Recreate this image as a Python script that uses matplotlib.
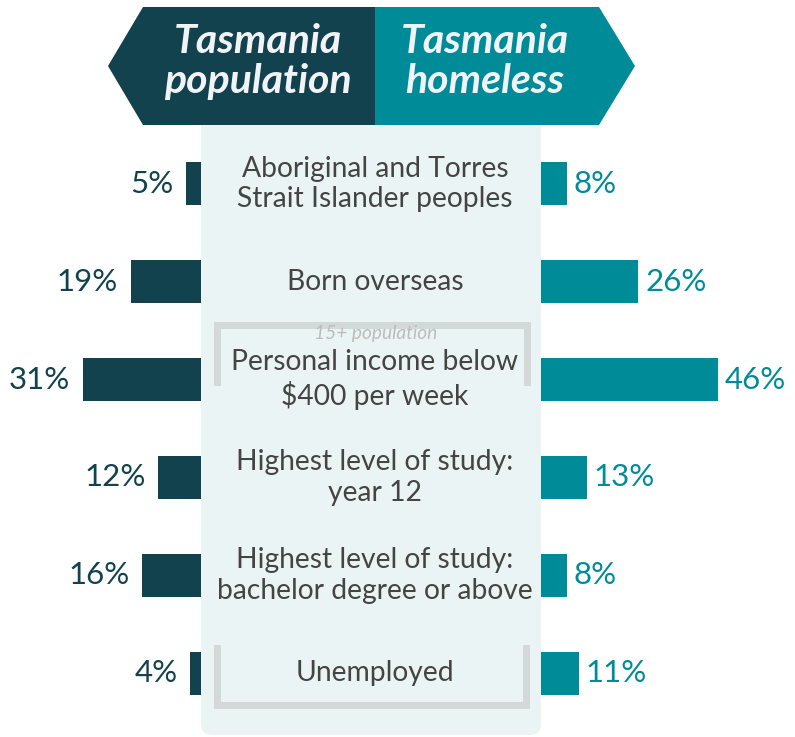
import matplotlib
matplotlib.use("Agg")
import matplotlib.pyplot as plt
import matplotlib.transforms as mtransforms
from matplotlib.patches import Polygon, FancyBboxPatch

plt.rcParams['font.family'] = ['Lato', 'DejaVu Sans']

# data
categories = ["Aboriginal and Torres\nStrait Islander peoples",
              "Born overseas",
              "Personal income below\n$400 per week",
              "Highest level of study:\nyear 12",
              "Highest level of study:\nbachelor degree or above",
              "Unemployed"]
population = [5, 19, 31, 12, 16, 4]
homeless = [8, 26, 46, 13, 8, 11]

dark = '#12424e'
teal = '#008b99'
panel = '#ebf4f4'
grey_txt = '#444444'
bracket = '#d3d8d8'

W, H = 795, 737
fig = plt.figure(figsize=(W / 100, H / 100), dpi=100)

# row geometry (pixels from top)
top, bottom = 135, 722
rows = list(range(len(categories)))
scale = 3.97  # px per percent
left_zero, right_zero = 206, 535  # bars start behind the panel

def add_axes_px(x0, x1):
    return fig.add_axes([x0 / W, 1 - bottom / H, (x1 - x0) / W, (bottom - top) / H])

axl = add_axes_px(0, left_zero)
axl.barh(rows, population, height=0.44, color=dark)
axl.set_xlim(left_zero / scale, 0)
axl.set_ylim(len(rows) - 0.5, -0.5)
axl.axis('off')
for r, v in zip(rows, population):
    axl.annotate(f"{v}%", (v, r), xytext=(-9, 0), textcoords='offset points',
                 ha='right', va='center', fontsize=22.5, color=dark)

axr = add_axes_px(right_zero, W)
axr.barh(rows, homeless, height=0.44, color=teal)
axr.set_xlim(0, (W - right_zero) / scale)
axr.set_ylim(len(rows) - 0.5, -0.5)
axr.axis('off')
for r, v in zip(rows, homeless):
    axr.annotate(f"{v}%", (v, r), xytext=(5, 0), textcoords='offset points',
                 ha='left', va='center', fontsize=22.5, color=teal)

# overlay axes in pixel coords: panel, header, brackets, centre labels
bg = fig.add_axes([0, 0, 1, 1])
bg.set_xlim(0, W)
bg.set_ylim(H, 0)
bg.axis('off')
bg.patch.set_alpha(0)

bg.add_patch(FancyBboxPatch((201, 100), 340, 635, boxstyle="round,pad=0,rounding_size=11",
                            fc=panel, ec='none', zorder=0))

bg.add_patch(Polygon([(108, 66), (143, 7), (375, 7), (375, 125), (143, 125)],
                     closed=True, fc=dark, ec='none', zorder=3))
bg.add_patch(Polygon([(375, 7), (599, 7), (635, 66), (599, 125), (375, 125)],
                     closed=True, fc=teal, ec='none', zorder=3))
hdr = dict(ha='center', va='center', color='#f2f3f7', fontsize=29.5, fontweight='bold',
           style='italic', linespacing=1.1, zorder=4)
bg.text(258, 61, "Tasmania\npopulation", **hdr)
bg.text(485, 61, "Tasmania\nhomeless", **hdr)

bg.plot([217, 217, 527, 527], [382, 325, 325, 382], color=bracket, lw=5,
        solid_joinstyle='miter', zorder=1)
bg.plot([217, 217, 526, 526], [648, 705, 705, 648], color=bracket, lw=5,
        solid_joinstyle='miter', zorder=1)
bg.text(376, 333, "15+ population", ha='center', va='center', fontsize=13.8,
        style='italic', color='#bcbcbc', zorder=2)

trans = mtransforms.blended_transform_factory(bg.transData, axl.transData)
for r, c in zip(rows, categories):
    bg.text(375, r, c, transform=trans, ha='center', va='center', fontsize=20.3,
            color=grey_txt, linespacing=1.22, zorder=2)

fig.savefig("out.png", dpi=100)
